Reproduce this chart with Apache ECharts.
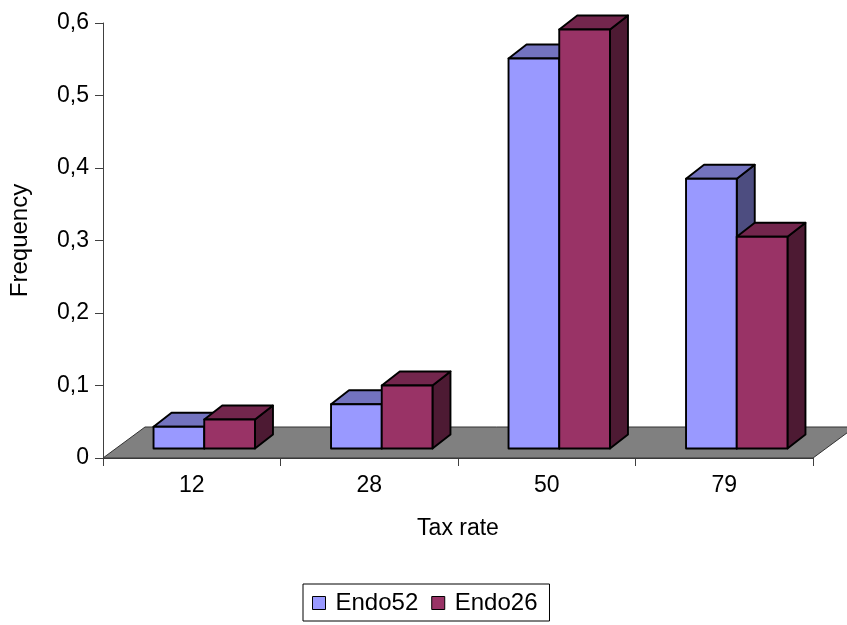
<!DOCTYPE html>
<html>
<head>
<meta charset="utf-8">
<script src="https://cdn.jsdelivr.net/npm/echarts@6/dist/echarts.min.js"></script>
<style>
  html, body { margin: 0; padding: 0; background: #ffffff; }
  #chart { width: 847px; height: 625px; }
</style>
</head>
<body>
<div id="chart"></div>
<script>
// Categories (tax rates) and frequencies per treatment
const taxRates = ['12', '28', '50', '79'];
const endo52 = [0.030, 0.061, 0.538, 0.372];
const endo26 = [0.040, 0.087, 0.578, 0.292];
const seriesNames = ['Endo52', 'Endo26'];
const yMin = 0, yMax = 0.6, yStep = 0.1;

// Oblique projection of the 3D look
const FLOOR_DX = 42, FLOOR_DY = -31;   // depth of the floor
const INSET_DX = 12.5, INSET_DY = -9.5; // bars sit inside the floor depth
const BAR_DX = 18, BAR_DY = -14;       // depth of a single column
const FONT = '"Liberation Sans", Arial, sans-serif';

const palettes = [
  { front: '#9999FF', top: '#7373BF', side: '#4D4D80' },
  { front: '#993366', top: '#73264D', side: '#4D1A33' }
];

function columnRenderer(slot, pal) {
  return function (params, api) {
    const cat = api.value(0);
    const val = api.value(1);
    const base = api.coord([cat, 0]);
    const top = api.coord([cat, val]);
    const band = api.size([1, 0])[0];
    const w = band / 3.5;               // gap width 150%
    const x0 = base[0] - w + slot * w + INSET_DX;
    const x1 = x0 + w;
    const yb = base[1] + INSET_DY;
    const yt = top[1] + INSET_DY;
    const edge = { stroke: '#000000', lineWidth: 1.9, lineJoin: 'round' };
    return {
      type: 'group',
      children: [
        { type: 'polygon',
          shape: { points: [[x1, yt], [x1 + BAR_DX, yt + BAR_DY], [x1 + BAR_DX, yb + BAR_DY], [x1, yb]] },
          style: Object.assign({ fill: pal.side }, edge) },
        { type: 'polygon',
          shape: { points: [[x0, yt], [x1, yt], [x1 + BAR_DX, yt + BAR_DY], [x0 + BAR_DX, yt + BAR_DY]] },
          style: Object.assign({ fill: pal.top }, edge) },
        { type: 'rect',
          shape: { x: x0, y: yt, width: w, height: yb - yt },
          style: Object.assign({ fill: pal.front }, edge) }
      ]
    };
  };
}

function floorRenderer(params) {
  const cs = params.coordSys;
  const x = cs.x, y = cs.y + cs.height, w = cs.width;
  return {
    type: 'polygon',
    shape: { points: [[x, y], [x + w, y], [x + w + FLOOR_DX, y + FLOOR_DY], [x + FLOOR_DX, y + FLOOR_DY]] },
    style: { fill: '#808080', stroke: '#333333', lineWidth: 1 }
  };
}

const chart = echarts.init(document.getElementById('chart'), null, { renderer: 'canvas' });

const option = {
  backgroundColor: '#ffffff',
  animation: false,
  textStyle: { fontFamily: FONT },
  grid: { left: 101, top: 23, right: 34, bottom: 167, containLabel: false },
  xAxis: {
    type: 'category',
    data: taxRates,
    name: 'Tax rate',
    nameLocation: 'middle',
    nameGap: 59,
    nameTextStyle: { fontSize: 23, color: '#000', fontFamily: FONT },
    axisLine: { lineStyle: { color: '#404040', width: 1 } },
    axisTick: { show: true, length: 8, lineStyle: { color: '#404040' } },
    axisLabel: { fontSize: 23, color: '#000', margin: 16, fontFamily: FONT },
    splitLine: { show: false }
  },
  yAxis: {
    type: 'value',
    min: yMin, max: yMax, interval: yStep,
    name: 'Frequency',
    nameLocation: 'middle',
    nameGap: 71,
    nameRotate: 90,
    nameTextStyle: { fontSize: 24, color: '#000', fontFamily: FONT },
    axisLine: { show: true, lineStyle: { color: '#404040', width: 1 } },
    axisTick: { show: true, length: 8, lineStyle: { color: '#404040' } },
    axisLabel: {
      fontSize: 23, color: '#000', margin: 14, fontFamily: FONT,
      formatter: v => (v === 0 ? '0' : v.toFixed(1).replace('.', ','))
    },
    splitLine: { show: false }
  },
  legend: {
    data: seriesNames,
    left: 303, top: 584,
    padding: [7, 12, 6, 9],
    borderColor: '#000', borderWidth: 1,
    icon: 'rect',
    itemWidth: 13, itemHeight: 13, itemGap: 13,
    itemStyle: { borderColor: '#000', borderWidth: 1 },
    textStyle: { fontSize: 24, color: '#000', fontFamily: FONT, padding: [0, 0, 0, 5] }
  },
  series: [
    {
      type: 'custom',
      name: 'floor',
      z: 1,
      silent: true,
      data: [[0, 0]],
      encode: { x: 0, y: 1 },
      renderItem: floorRenderer
    },
    {
      type: 'custom',
      name: seriesNames[0],
      z: 2,
      itemStyle: { color: palettes[0].front },
      data: endo52.map((v, i) => [i, v]),
      encode: { x: 0, y: 1 },
      renderItem: columnRenderer(0, palettes[0])
    },
    {
      type: 'custom',
      name: seriesNames[1],
      z: 3,
      itemStyle: { color: palettes[1].front },
      data: endo26.map((v, i) => [i, v]),
      encode: { x: 0, y: 1 },
      renderItem: columnRenderer(1, palettes[1])
    }
  ]
};

chart.setOption(option);
</script>
</body>
</html>
